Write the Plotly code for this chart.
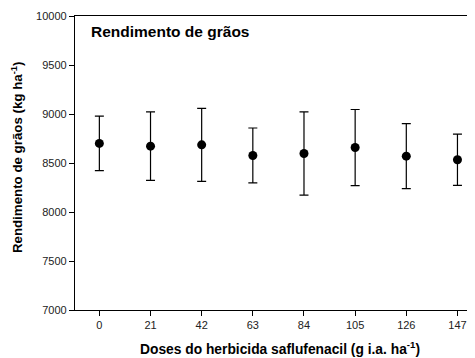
import plotly.graph_objects as go

doses = [0, 21, 42, 63, 84, 105, 126, 147]
rendimento = [8700, 8672, 8685, 8577, 8597, 8658, 8570, 8533]
erro = [278, 350, 372, 280, 425, 388, 331, 262]
x_ticks = [0, 21, 42, 63, 84, 105, 126, 147]
y_ticks = [7000, 7500, 8000, 8500, 9000, 9500, 10000]
y_labels = [str(v) for v in y_ticks]

fig = go.Figure()
fig.add_trace(go.Scatter(
    x=doses, y=rendimento, mode="markers",
    marker=dict(color="black", size=9),
    error_y=dict(type="data", array=erro, visible=True, color="black", thickness=1.2, width=4.5),
    showlegend=False,
))

fam = "Arial, Liberation Sans, sans-serif"
axis_font = dict(family=fam, size=11, color="#222")
fig.update_layout(
    width=467, height=350,
    margin=dict(l=67, r=0, t=8, b=48, autoexpand=False),
    plot_bgcolor="white", paper_bgcolor="white",
    xaxis=dict(range=[-10, 154.2], tickvals=x_ticks, ticks="outside", ticklen=5,
               tickcolor="black", showline=True, linecolor="black", linewidth=1.2,
               mirror=True, showgrid=False, zeroline=False, tickfont=axis_font,
               automargin=False),
    yaxis=dict(range=[7000, 10000], tickvals=y_ticks, ticktext=y_labels, ticks="outside", ticklen=5,
               tickcolor="black", showline=True, linecolor="black", linewidth=1.2,
               mirror=True, showgrid=False, zeroline=False, tickfont=axis_font,
               automargin=False),
    annotations=[
        dict(text="<b>Rendimento de grãos</b>", xref="paper", yref="paper",
             x=0.035, y=0.946, xanchor="left", yanchor="middle", showarrow=False,
             font=dict(family=fam, size=15.5, color="black")),
        dict(text="<b>Rendimento de grãos (kg ha<sup>-1</sup>)</b>", xref="paper", yref="paper",
             x=-0.145, y=0.52, xanchor="center", yanchor="middle", textangle=-90, showarrow=False,
             font=dict(family=fam, size=13.3, color="black")),
        dict(text="<b>Doses do herbicida saflufenacil (g i.a. ha<sup>-1</sup>)</b>", xref="paper", yref="paper",
             x=0.5125, y=-0.13, xanchor="center", yanchor="middle", showarrow=False,
             font=dict(family=fam, size=13.8, color="black")),
    ],
)
fig.write_html("out.html")
